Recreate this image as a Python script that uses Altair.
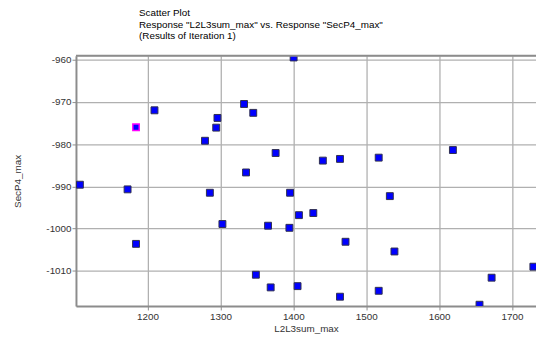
import altair as alt
import pandas as pd

# Data
x_vals = [1400.4, 1107.2, 1172.6, 1209.5, 1278.8, 1295.9, 1294.2, 1332.4, 1345.0, 1335.1,
          1285.5, 1375.7, 1440.5, 1464.0, 1517.1, 1618.9, 1395.5, 1532.4, 1184.2, 1302.7,
          1365.3, 1348.6, 1368.9, 1407.7, 1427.4, 1394.6, 1471.6, 1538.7, 1405.8, 1464.0,
          1517.1, 1655.4, 1672.0, 1729.3]
y_vals = [-959.5, -989.6, -990.7, -972.0, -979.2, -973.8, -976.1, -970.5, -972.6, -986.7,
          -991.5, -982.1, -983.9, -983.5, -983.2, -981.4, -991.5, -992.3, -1003.6, -998.9,
          -999.3, -1010.9, -1013.9, -996.8, -996.3, -999.8, -1003.1, -1005.4, -1013.6, -1016.1,
          -1014.7, -1018.0, -1011.6, -1009.0]
hi_x = [1184.2]
hi_y = [-976.0]

x_ticks = [1200, 1300, 1400, 1500, 1600, 1700]
y_ticks = [-1010, -1000, -990, -980, -970, -960]

title_text = "Scatter Plot"
subtitle_lines = ['\u00a0Response "L2L3sum_max" vs. Response "SecP4_max"',
                  '\u00a0(Results of Iteration 1)']

df = pd.DataFrame({"L2L3sum_max": x_vals, "SecP4_max": y_vals})
df_hi = pd.DataFrame({"L2L3sum_max": hi_x, "SecP4_max": hi_y})

W, H = 467, 254
FONT = "Liberation Sans"

xscale = alt.Scale(domain=[1101.8, 1732.9], nice=False, zero=False)
yscale = alt.Scale(domain=[-1018.3, -959.1], nice=False, zero=False)

common = dict(grid=True, gridColor="#b0b0b0", gridWidth=1.3, domainColor="#8c8c8c",
              domainWidth=2, tickColor="#8c8c8c", tickSize=4, labelFont=FONT,
              labelFontSize=10, labelColor="#333333", titleFont=FONT, titleFontSize=10,
              titleFontWeight="normal", titleColor="#333333",
              labelExpr="'' + datum.value")

xaxis = alt.Axis(values=x_ticks, title="L2L3sum_max", labelPadding=2, titlePadding=2, **common)
yaxis = alt.Axis(values=y_ticks, title="SecP4_max", labelPadding=1, titlePadding=24, **common)

pts = alt.Chart(df).mark_point(shape="square", filled=True, size=49, fill="#0000ff",
                               stroke="#303050", strokeWidth=1, opacity=1, clip=True).encode(
    x=alt.X("L2L3sum_max:Q", scale=xscale, axis=xaxis),
    y=alt.Y("SecP4_max:Q", scale=yscale, axis=yaxis),
)

hi = alt.Chart(df_hi).mark_point(shape="square", filled=True, size=42, fill="#0000ff",
                                 stroke="#ff00ff", strokeWidth=1.5, opacity=1, clip=True).encode(
    x=alt.X("L2L3sum_max:Q", scale=xscale),
    y=alt.Y("SecP4_max:Q", scale=yscale),
)

top_border = alt.Chart(pd.DataFrame({"k": [0]})).mark_rule(
    color="#8c8c8c", strokeWidth=2).encode(
    x=alt.value(0), x2=alt.value(W), y=alt.value(0))

chart = alt.layer(pts, hi, top_border).properties(
    width=W, height=H,
    autosize=alt.AutoSizeParams(type="none"),
    padding={"left": 69, "top": 46, "right": 0, "bottom": 33},
    title=alt.TitleParams(text=title_text, subtitle=subtitle_lines, anchor="start",
                          frame="group", dx=64, offset=14, font=FONT, fontSize=10,
                          fontWeight="normal", color="#000000", subtitleFont=FONT,
                          subtitleFontSize=10, subtitleColor="#000000",
                          subtitleLineHeight=11.5, subtitlePadding=1.5),
).configure_view(stroke=None).configure(background="white")

chart.save("out.html", embed_options={"renderer": "svg", "actions": False})
